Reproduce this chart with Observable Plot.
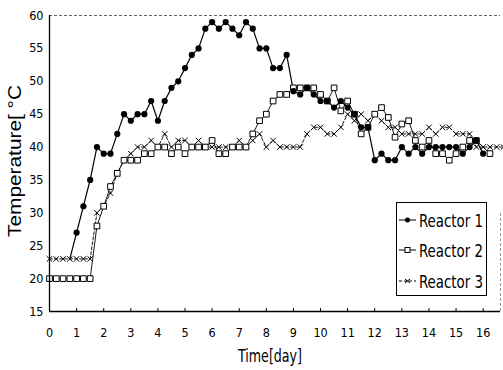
<!DOCTYPE html>
<html><head><meta charset="utf-8">
<script src="https://cdn.jsdelivr.net/npm/d3@7"></script>
<script src="https://cdn.jsdelivr.net/npm/@observablehq/plot@0.6"></script>
<style>
html,body{margin:0;padding:0;background:#fff;}
#chart{width:503px;height:370px;}
</style></head><body><div id="chart"></div>
<script>
const xTickLabels = [0,1,2,3,4,5,6,7,8,9,10,11,12,13,14,15,16];
const yTickLabels = [15,20,25,30,35,40,45,50,55,60];
const seriesNames = ["Reactor 1","Reactor 2","Reactor 3"];
const xTitle = "Time[day]";
const yTitle = "Temperature[ °C";

const r1Days = [0.75,1,1.25,1.5,1.75,2,2.25,2.5,2.75,3,3.25,3.5,3.75,4,4.25,4.5,4.75,5,5.25,5.5,5.75,6,6.25,6.5,6.75,7,7.25,7.5,7.75,8,8.25,8.5,8.75,9,9.25,9.5,9.75,10,10.25,10.5,10.75,11,11.25,11.5,11.75,12,12.25,12.5,12.75,13,13.25,13.5,13.75,14,14.25,14.5,14.75,15,15.25,15.5,15.75,16];
const r1Temp = [23,27,31,35,40,39,39,42,45,44,45,45,47,44,47,49,50,52,54,55,58,59,58,59,58,57,59,58,55,55,52,52,54,48.5,48,49,48,47,47,46,47,46,45,43,43,38,39,38,38,40,39,40,39,40,40,40,40,40,39,40,41,39];

const r2Days = [0,0.25,0.5,0.75,1,1.25,1.5,1.75,2,2.25,2.5,2.75,3,3.25,3.5,3.75,4,4.25,4.5,4.75,5,5.25,5.5,5.75,6,6.25,6.5,6.75,7,7.25,7.5,7.75,8,8.25,8.5,8.75,9,9.25,9.5,9.75,10,10.25,10.5,10.75,11,11.25,11.5,11.75,12,12.25,12.5,12.75,13,13.25,13.5,13.75,14,14.25,14.5,14.75,15,15.25,15.5,15.75,16.25];
const r2Temp = [20,20,20,20,20,20,20,28,31,34,36,38,38,38,39,39,40,40,39,40,39,40,40,40,41,39,39,40,40,40,42,44,45,47,48,48,49,49,49,49,48,47,49,45.5,47,45,42,43,45,46,44.5,41.5,43.5,44,41,40,41,39,39,38,39,40,41,41,39];

const r3Days = [0,0.25,0.5,0.75,1,1.25,1.5,1.75,2,2.25,2.5,2.75,3,3.25,3.5,3.75,4,4.25,4.5,4.75,5,5.25,5.5,5.75,6,6.25,6.5,6.75,7,7.25,7.5,7.75,8,8.25,8.5,8.75,9,9.25,9.5,9.75,10,10.25,10.5,10.75,11,11.25,11.5,11.75,12,12.25,12.5,12.75,13,13.25,13.5,13.75,14,14.25,14.5,14.75,15,15.25,15.5,15.75,16,16.25,16.5,16.75];
const r3Temp = [23,23,23,23,23,23,23,30,31,33,36,38,39,40,40,41,40,42,40,41,41,40,41,40,40,40,40,40,41,40,41,42,40,41,40,40,40,40,42,43,43,42,42,43,45,44,45,44,45,44,43,43,42,42,42,42,43,42,43,43,42,42,42,40,40,40,40,40];

const toRows = (days, temps) => days.map((d, i) => ({day: d, temp: temps[i]}));
const r1 = toRows(r1Days, r1Temp);
const r2 = toRows(r2Days, r2Temp);
const r3 = toRows(r3Days, r3Temp);

const narrow = "'Liberation Sans Narrow','Arial Narrow','DejaVu Sans',sans-serif";
const xMax = 16.64;

const plot = Plot.plot({
  width: 503, height: 370,
  marginLeft: 49, marginRight: 3, marginTop: 15, marginBottom: 59,
  style: {fontFamily: narrow, fontSize: "12.5px", fontStretch: "condensed", background: "#fff", color: "#000", overflow: "visible"},
  x: {domain: [0, xMax], ticks: xTickLabels, tickSize: 0, tickPadding: 17, label: null},
  y: {domain: [15, 60], ticks: yTickLabels, tickSize: 0, tickPadding: 6, label: null},
  marks: [
    Plot.ruleY([60], {stroke: "#666", strokeWidth: 1, strokeDasharray: "3,2"}),
    Plot.ruleX([xMax], {y1: 15, y2: 30, stroke: "#999", strokeWidth: 1, strokeDasharray: "3,2"}),
    Plot.ruleX(xTickLabels.filter(d => d > 0), {y1: 15, y2: 15.45, stroke: "#000", strokeWidth: 1}),
    Plot.line(r3, {x: "day", y: "temp", stroke: "#000", strokeWidth: 0.9, strokeDasharray: "3,2"}),
    Plot.line(r2, {x: "day", y: "temp", stroke: "#000", strokeWidth: 0.9}),
    Plot.line(r1, {x: "day", y: "temp", stroke: "#000", strokeWidth: 1.2}),
    Plot.dot(r3, {x: "day", y: "temp", symbol: "times", r: 2.6, stroke: "#000", strokeWidth: 1}),
    Plot.dot(r2, {x: "day", y: "temp", symbol: "square", r: 3.2, fill: "#fff", stroke: "#000", strokeWidth: 1}),
    Plot.dot(r1, {x: "day", y: "temp", r: 3.1, fill: "#000", stroke: "none", filter: d => d.day >= 1}),
    Plot.ruleX([0], {stroke: "#000", strokeWidth: 1.3}),
    Plot.ruleY([15], {stroke: "#000", strokeWidth: 1.3})
  ]
});
document.getElementById("chart").appendChild(plot);

const svg = d3.select(plot);
svg.append("text")
  .attr("transform", "translate(15,161) rotate(-90)")
  .attr("text-anchor", "middle").attr("dominant-baseline", "central")
  .attr("textLength", 152).attr("lengthAdjust", "spacingAndGlyphs")
  .style("font-family", "'Liberation Sans',Arial,sans-serif").style("font-size", "18px")
  .attr("fill", "#000").text(yTitle);
svg.append("text")
  .attr("x", 270).attr("y", 362).attr("text-anchor", "middle")
  .attr("textLength", 64).attr("lengthAdjust", "spacingAndGlyphs")
  .style("font-family", narrow).style("font-size", "17px")
  .attr("fill", "#000").text(xTitle);

// legend
const lg = svg.append("g");
lg.append("rect").attr("x", 396.5).attr("y", 202.5).attr("width", 90).attr("height", 93)
  .attr("fill", "#fff").attr("stroke", "#000").attr("stroke-width", 1);
const rowsY = [220, 250, 281];
seriesNames.forEach((name, i) => {
  const y = rowsY[i];
  lg.append("line").attr("x1", 399).attr("x2", 416).attr("y1", y).attr("y2", y)
    .attr("stroke", "#000").attr("stroke-width", 1)
    .attr("stroke-dasharray", i === 2 ? "3,2" : null);
  if (i === 0) lg.append("circle").attr("cx", 407.5).attr("cy", y).attr("r", 2.5).attr("fill", "#000");
  if (i === 1) lg.append("rect").attr("x", 405).attr("y", y - 2.5).attr("width", 5).attr("height", 5).attr("fill", "#fff").attr("stroke", "#000");
  if (i === 2) lg.append("path").attr("d", `M${405},${y-2}L${410},${y+2}M${410},${y-2}L${405},${y+2}`).attr("stroke", "#000").attr("fill", "none");
  lg.append("text").attr("x", 419).attr("y", y).attr("text-anchor", "start").attr("dominant-baseline", "central")
    .attr("textLength", 64).attr("lengthAdjust", "spacingAndGlyphs")
    .style("font-family", narrow).style("font-size", "18px").attr("fill", "#000").text(name);
});
</script>
</body></html>
